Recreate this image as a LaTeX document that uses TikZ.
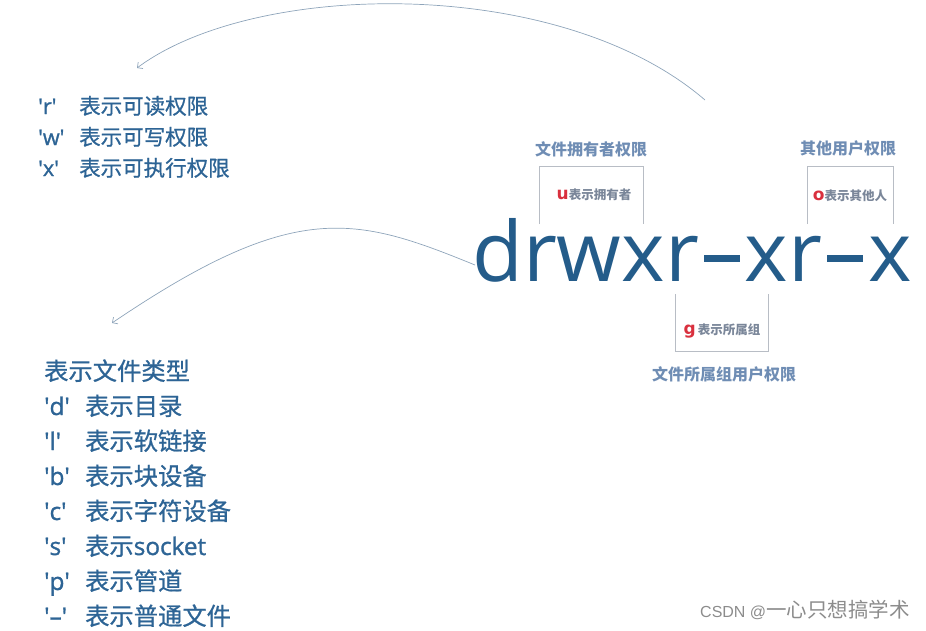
\documentclass[tikz,border=0pt]{standalone}
\usepackage{fontspec}
\newfontfamily\cjk{Noto Sans CJK SC}
\newfontfamily\cjkm{Noto Sans CJK SC}[FakeBold=0.8]
\newfontfamily\lat{Open Sans}
\newfontfamily\latm{Open Sans}[FakeBold=1.2]
\newfontfamily\latb{DejaVu Sans}[UprightFont={* Bold}]
\newfontfamily\wmlat{Liberation Sans}
\usetikzlibrary{arrows.meta}
\definecolor{bigblue}{HTML}{245C8A}
\definecolor{listblue}{HTML}{2D6495}
\definecolor{lblblue}{HTML}{6F8DB4}
\definecolor{smallgray}{HTML}{7A8699}
\definecolor{redu}{HTML}{D9303E}
\definecolor{arccol}{HTML}{8EA4BA}
\definecolor{brkcol}{HTML}{B8BDC5}
\definecolor{wmgray}{HTML}{8C8C8C}
\tikzset{
  arcline/.style={draw=arccol, line width=0.7pt, -{Straight Barb[length=4pt,width=8pt]}},
  brk/.style={draw=brkcol, line width=0.9pt},
  lbl/.style={inner sep=0, text=lblblue, font=\cjk\bfseries\fontsize{16}{16}\selectfont},
  smalllbl/.style={inner sep=0, text=smallgray, font=\cjk\bfseries\fontsize{12.5}{12.5}\selectfont},
  toplist/.style={anchor=base west, inner sep=0, text=listblue, font=\fontsize{21.5}{21.5}\selectfont},
  botlist/.style={anchor=base west, inner sep=0, text=listblue, font=\fontsize{24.3}{24.3}\selectfont},
}
\newcommand{\tq}[1]{\makebox[41pt][l]{\latm\textquotesingle#1\textquotesingle}}
\newcommand{\redl}[1]{\textcolor{redu}{\normalfont\latb\fontsize{17}{17}\selectfont #1}}
\newcommand{\bigdash}{\makebox[46pt]{\rule[19pt]{36pt}{7pt}}}
\begin{document}
\begin{tikzpicture}[x=1pt,y=-1pt]
\useasboundingbox (0,0) rectangle (926,630);

% big permission string
\node[anchor=base west, inner sep=0, text=bigblue, font=\lat\fontsize{83}{83}\selectfont] (perm) at (472,281) {drwxr\bigdash xr\bigdash x};

% brackets
\draw[brk] (539,224) |- (643,166) -- (643,224);
\draw[brk] (807,224) |- (893,166) -- (893,224);
\draw[brk] (675,294) |- (768,351) -- (768,294);

% labels
\node[lbl] (own) at (591,149) {文件拥有者权限};
\node[lbl] (oth) at (848,148) {其他用户权限};
\node[lbl] (grp) at (724,374) {文件所属组用户权限};
\node[smalllbl] (u) at (594,195) {\redl{u}表示拥有者};
\node[smalllbl] (o) at (850,196) {\redl{o}表示其他人};
\node[smalllbl] (g) at (722,331) {\redl{g}\,表示所属组};

% top list
\node[toplist] (r) at (38,114) {\tq{r}\cjkm 表示可读权限};
\node[toplist] (w) at (38,145) {\tq{w}\cjkm 表示可写权限};
\node[toplist] (x) at (38,176) {\tq{x}\cjkm 表示可执行权限};

% bottom list
\node[botlist] (ft) at (44,380) {\cjkm 表示文件类型};
\node[botlist] (fd) at (44,415) {\tq{d}\cjkm 表示目录};
\node[botlist] (fl) at (44,450) {\tq{l}\cjkm 表示软链接};
\node[botlist] (fb) at (44,485) {\tq{b}\cjkm 表示块设备};
\node[botlist] (fc) at (44,520) {\tq{c}\cjkm 表示字符设备};
\node[botlist] (fs) at (44,555) {\tq{s}\cjkm 表示{\latm socket}};
\node[botlist] (fp) at (44,590) {\tq{p}\cjkm 表示管道};
\node[botlist] (fm) at (44,625) {\tq{\textendash}\cjkm 表示普通文件};

% arcs
\coordinate (a1s) at (705,100);
\coordinate (a1e) at (137,68);
\draw[arcline] (a1s) .. controls (560,-25) and (255,-20) .. (a1e);
\coordinate (a2s) at (475,265);
\coordinate (a2e) at (112,323);
\draw[arcline] (a2s) .. controls (355,216) and (295,199) .. (a2e);

% watermark
\node[inner sep=0, text=wmgray, anchor=base west] (wm) at (700,617) {{\wmlat\fontsize{16}{16}\selectfont CSDN @}{\cjk\fontsize{20.5}{20.5}\selectfont 一心只想搞学术}};
\end{tikzpicture}
\end{document}
